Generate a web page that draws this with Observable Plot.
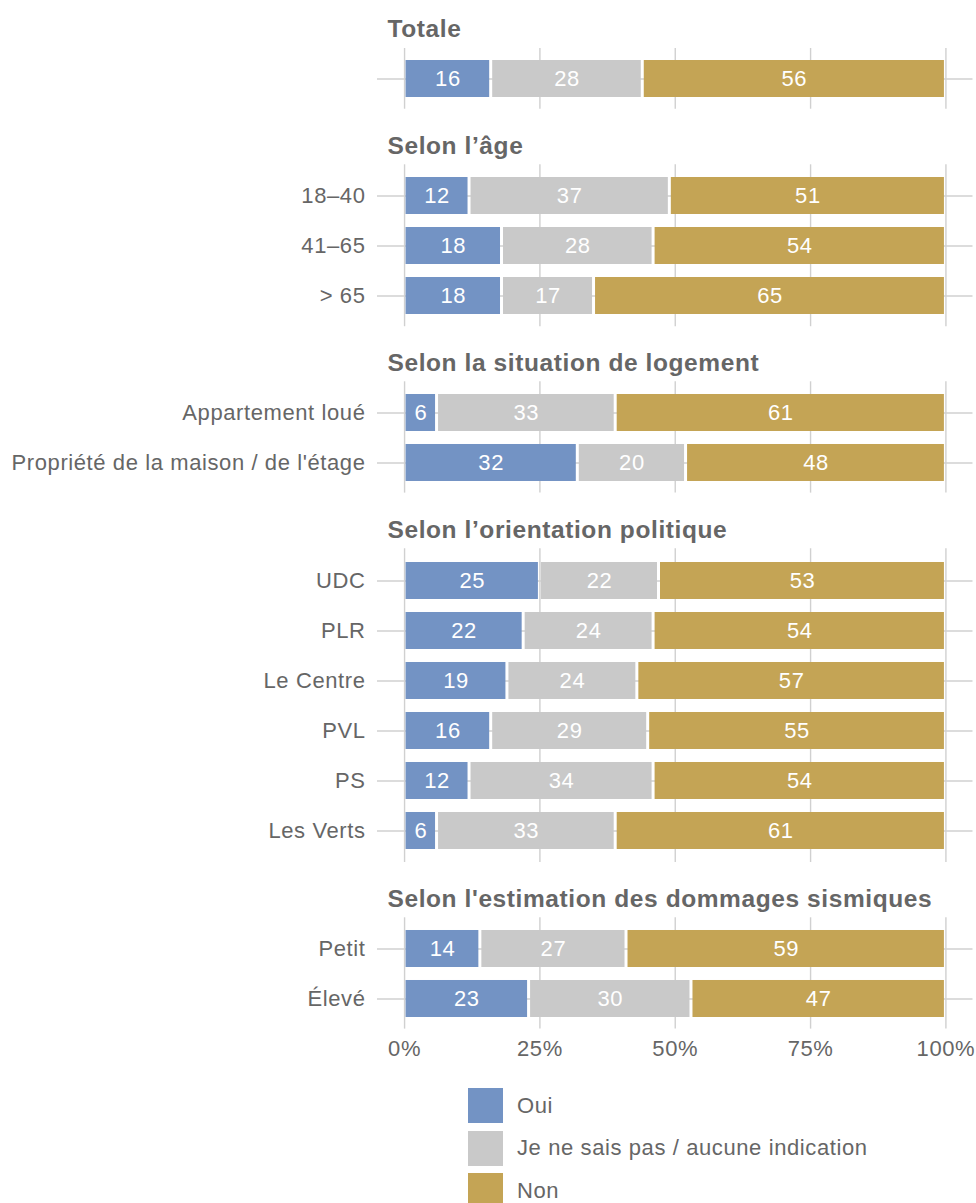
<!DOCTYPE html>
<html>
<head>
<meta charset="utf-8">
<script src="https://cdn.jsdelivr.net/npm/d3@7"></script>
<script src="https://cdn.jsdelivr.net/npm/@observablehq/plot@0.6"></script>
<style>
  html, body { margin: 0; padding: 0; background: #fff; }
  #chart { width: 976px; font-family: "Liberation Sans", Arial, sans-serif; color: #666; }
  #chart svg { display: block; overflow: visible; }
  .legend { margin-left: 468px; margin-top: 20px; }
  .legend .item { display: flex; align-items: center; height: 35px; margin-bottom: 7.5px; font-size: 22px; color: #666; letter-spacing: 0.6px; }
  .legend .sw { width: 35px; height: 35px; margin-right: 14px; flex: none; }
</style>
</head>
<body>
<div id="chart"></div>
<script>
// ---- data ----
const categories = ["Oui", "Je ne sais pas / aucune indication", "Non"];
const colors = ["#7393c4", "#c9c9c9", "#c4a455"];

const sectionTitles = [
  "Totale",
  "Selon l’âge",
  "Selon la situation de logement",
  "Selon l’orientation politique",
  "Selon l'estimation des dommages sismiques"
];
const sectionRows = [
  ["Totale"],
  ["18–40", "41–65", "> 65"],
  ["Appartement loué", "Propriété de la maison / de l'étage"],
  ["UDC", "PLR", "Le Centre", "PVL", "PS", "Les Verts"],
  ["Petit", "Élevé"]
];
const oui = [
  [16],
  [12, 18, 18],
  [6, 32],
  [25, 22, 19, 16, 12, 6],
  [14, 23]
];
const nsp = [
  [28],
  [37, 28, 17],
  [33, 20],
  [22, 24, 24, 29, 34, 33],
  [27, 30]
];
const non = [
  [56],
  [51, 54, 65],
  [61, 48],
  [53, 54, 57, 55, 54, 61],
  [59, 47]
];
const xTicks = [0, 25, 50, 75, 100];

// ---- layout ----
const STEP = 50.6;
const FONT = "Liberation Sans, Arial, sans-serif";
const container = document.getElementById("chart");

sectionTitles.forEach((title, s) => {
  const rows = sectionRows[s];
  const data = [];
  rows.forEach((r, i) => {
    [oui[s][i], nsp[s][i], non[s][i]].forEach((v, c) => {
      data.push({row: r, cat: categories[c], value: v});
    });
  });
  const last = s === sectionTitles.length - 1;
  const mt = s === 0 ? 48 : 55.3;
  const mb = last ? 40 : 0;
  const height = mt + mb + (rows.length + 0.2) * STEP;

  const chart = Plot.plot({
    width: 976,
    height,
    marginTop: mt,
    marginBottom: mb,
    marginLeft: 377,
    marginRight: 3.5,
    style: {fontFamily: FONT, fontSize: "22px", color: "#666", background: "transparent", overflow: "visible", letterSpacing: "0.6px"},
    x: {
      domain: [-5, 105],
      ticks: xTicks,
      tickFormat: d => d + "%",
      tickSize: 0,
      tickPadding: 11,
      label: null,
      axis: last ? "bottom" : null
    },
    y: {
      domain: rows,
      paddingInner: 0.27,
      paddingOuter: 0.235,
      tickSize: 0,
      tickPadding: 12,
      label: null,
      tickFormat: s === 0 ? () => "" : d => d
    },
    color: {domain: categories, range: colors},
    marks: [
      Plot.ruleX(xTicks, {stroke: "#d0d0d0", strokeWidth: 1.4}),
      Plot.ruleY(rows, {y: d => d, stroke: "#d0d0d0", strokeWidth: 1.4}),
      Plot.barX(data, Plot.stackX({x: "value", y: "row", fill: "cat", insetLeft: 1.5, insetRight: 1.5})),
      Plot.text(data, Plot.stackX({x: "value", y: "row", text: d => String(d.value), fill: "white", fontSize: 22})),
      Plot.text([title], {
        frameAnchor: "top-left",
        text: d => d,
        dx: 10,
        dy: -11,
        lineAnchor: "bottom",
        textAnchor: "start",
        fontWeight: "bold",
        fontSize: 24.5,
        fill: "#666"
      })
    ]
  });
  container.appendChild(chart);
});

// ---- legend ----
const legend = document.createElement("div");
legend.className = "legend";
categories.forEach((c, i) => {
  const item = document.createElement("div");
  item.className = "item";
  const sw = document.createElement("div");
  sw.className = "sw";
  sw.style.background = colors[i];
  const label = document.createElement("span");
  label.textContent = c;
  item.appendChild(sw);
  item.appendChild(label);
  legend.appendChild(item);
});
container.appendChild(legend);
</script>
</body>
</html>
